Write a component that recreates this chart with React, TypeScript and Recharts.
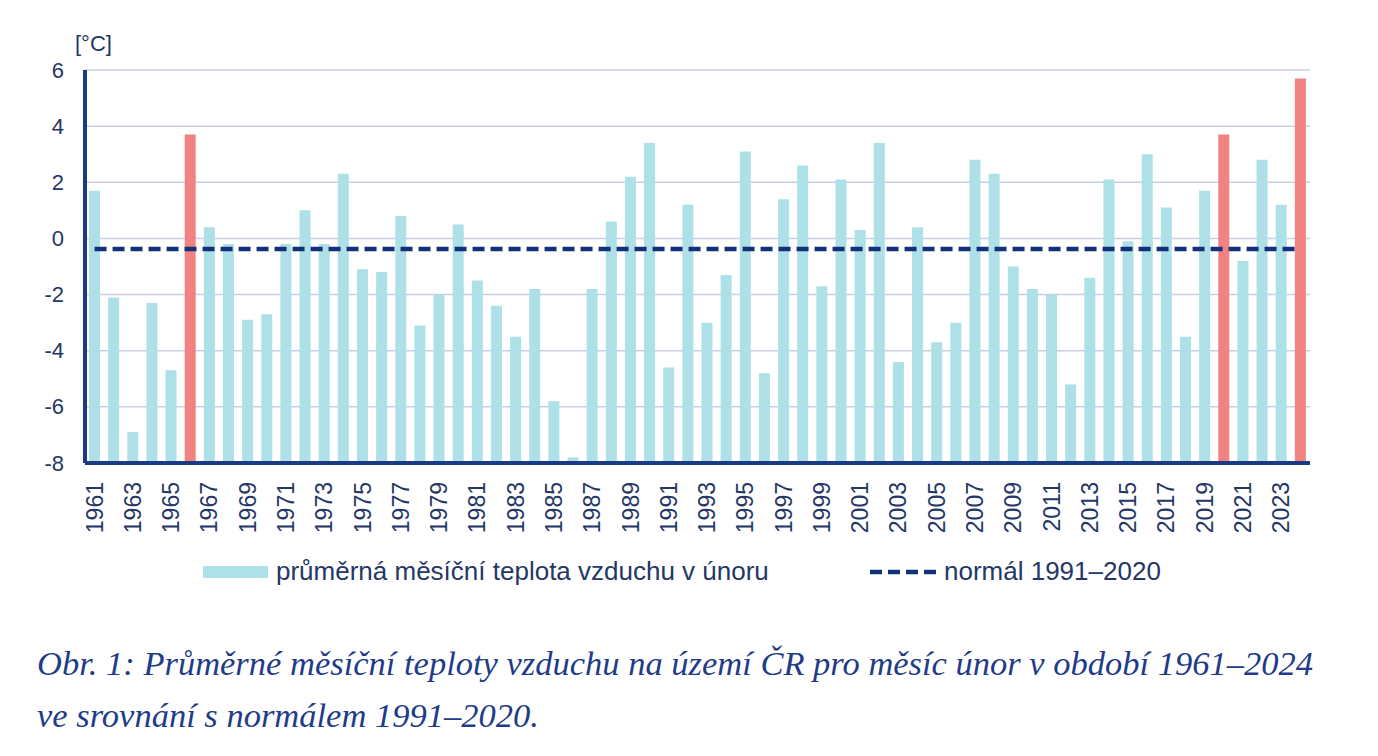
import React from 'react';
import { ComposedChart, Bar, Line, XAxis, YAxis, CartesianGrid, Cell } from 'recharts';

const years: number[] = [
  1961, 1962, 1963, 1964, 1965, 1966, 1967, 1968, 1969, 1970,
  1971, 1972, 1973, 1974, 1975, 1976, 1977, 1978, 1979, 1980,
  1981, 1982, 1983, 1984, 1985, 1986, 1987, 1988, 1989, 1990,
  1991, 1992, 1993, 1994, 1995, 1996, 1997, 1998, 1999, 2000,
  2001, 2002, 2003, 2004, 2005, 2006, 2007, 2008, 2009, 2010,
  2011, 2012, 2013, 2014, 2015, 2016, 2017, 2018, 2019, 2020,
  2021, 2022, 2023, 2024,
];

const temps: number[] = [
  1.7, -2.1, -6.9, -2.3, -4.7, 3.7, 0.4, -0.2, -2.9, -2.7,
  -0.2, 1.0, -0.2, 2.3, -1.1, -1.2, 0.8, -3.1, -2.0, 0.5,
  -1.5, -2.4, -3.5, -1.8, -5.8, -7.8, -1.8, 0.6, 2.2, 3.4,
  -4.6, 1.2, -3.0, -1.3, 3.1, -4.8, 1.4, 2.6, -1.7, 2.1,
  0.3, 3.4, -4.4, 0.4, -3.7, -3.0, 2.8, 2.3, -1.0, -1.8,
  -2.0, -5.2, -1.4, 2.1, -0.1, 3.0, 1.1, -3.5, 1.7, 3.7,
  -0.8, 2.8, 1.2, 5.7,
];

const highlightedYears: number[] = [1966, 2020, 2024];
const normal1991_2020 = -0.38;
const yTicks: number[] = [-8, -6, -4, -2, 0, 2, 4, 6];
const Y_MIN = -8;
const Y_MAX = 6;

const seriesLabel = 'průměrná měsíční teplota vzduchu v únoru';
const normalLabel = 'normál 1991–2020';
const unitLabel = '[°C]';
const captionLine1 = 'Obr. 1: Průměrné měsíční teploty vzduchu na území ČR pro měsíc únor v období 1961–2024';
const captionLine2 = 've srovnání s normálem 1991–2020.';

const data = years.map((y, i) => ({
  year: String(y),
  temp: temps[i],
  normal: normal1991_2020,
  highlight: highlightedYears.includes(y),
}));

const BAR_COLOR = '#aee0e8';
const RED_COLOR = '#f08282';
const NAVY = '#1b3a86';
const DASH_COLOR = '#13307a';
const TEXT_COLOR = '#243766';
const FONT = '"Liberation Sans", Arial, sans-serif';

const XTick = (props: any) => {
  const { x, y, payload } = props;
  return (
    <text
      x={x}
      y={y}
      transform={`rotate(-90, ${x}, ${y})`}
      textAnchor="end"
      dominantBaseline="central"
      fill={TEXT_COLOR}
      fontSize={23}
      fontFamily={FONT}
    >
      {payload.value}
    </text>
  );
};

const YTick = (props: any) => {
  const { x, y, payload } = props;
  return (
    <text
      x={x}
      y={y}
      textAnchor="end"
      dominantBaseline="central"
      fill={TEXT_COLOR}
      fontSize={22}
      fontFamily={FONT}
    >
      {payload.value}
    </text>
  );
};

export default function App() {
  return (
    <div style={{ position: 'absolute', left: 0, top: 0, width: 1378, height: 756, background: '#ffffff' }}>
      <ComposedChart
        width={1378}
        height={555}
        data={data}
        margin={{ top: 70, right: 68, left: 20, bottom: 0 }}
        barCategoryGap="44%"
      >
        <CartesianGrid vertical={false} stroke="#c9cee2" strokeWidth={1.5} />
        <XAxis
          dataKey="year"
          interval={1}
          height={92}
          tickLine={false}
          tickSize={0}
          tickMargin={19}
          axisLine={{ stroke: NAVY, strokeWidth: 4 }}
          tick={<XTick />}
        />
        <YAxis
          domain={[Y_MIN, Y_MAX]}
          ticks={yTicks}
          allowDataOverflow
          width={65}
          tickLine={false}
          tickSize={0}
          tickMargin={21}
          axisLine={{ stroke: NAVY, strokeWidth: 4 }}
          tick={<YTick />}
        />
        <Bar
          dataKey={(d: any) => [Y_MIN, d.temp]}
          barSize={11}
          isAnimationActive={false}
        >
          {data.map((d, i) => (
            <Cell key={i} fill={d.highlight ? RED_COLOR : BAR_COLOR} />
          ))}
        </Bar>
        <Line
          dataKey="normal"
          stroke={DASH_COLOR}
          strokeWidth={4.5}
          strokeDasharray="12 6"
          dot={false}
          activeDot={false}
          isAnimationActive={false}
        />
      </ComposedChart>

      <div
        style={{
          position: 'absolute', left: 75, top: 31, fontFamily: FONT, fontSize: 22,
          color: TEXT_COLOR, lineHeight: '26px',
        }}
      >
        {unitLabel}
      </div>

      <div style={{ position: 'absolute', left: 203, top: 566, width: 65, height: 12, background: BAR_COLOR }} />
      <div
        style={{
          position: 'absolute', left: 276, top: 556, fontFamily: FONT, fontSize: 26,
          color: TEXT_COLOR, lineHeight: '30px', whiteSpace: 'nowrap',
        }}
      >
        {seriesLabel}
      </div>
      <svg style={{ position: 'absolute', left: 868, top: 566 }} width={76} height={12}>
        <line x1={2} y1={6} x2={74} y2={6} stroke={DASH_COLOR} strokeWidth={4.5} strokeDasharray="12 6" />
      </svg>
      <div
        style={{
          position: 'absolute', left: 944, top: 556, fontFamily: FONT, fontSize: 26,
          color: TEXT_COLOR, lineHeight: '30px', whiteSpace: 'nowrap',
        }}
      >
        {normalLabel}
      </div>

      <div
        style={{
          position: 'absolute', left: 37, top: 637, fontFamily: '"Liberation Serif", "Times New Roman", serif',
          fontStyle: 'italic', fontSize: 34.5, color: '#1f3c88', lineHeight: '52px', whiteSpace: 'nowrap',
        }}
      >
        <div>{captionLine1}</div>
        <div>{captionLine2}</div>
      </div>
    </div>
  );
}
